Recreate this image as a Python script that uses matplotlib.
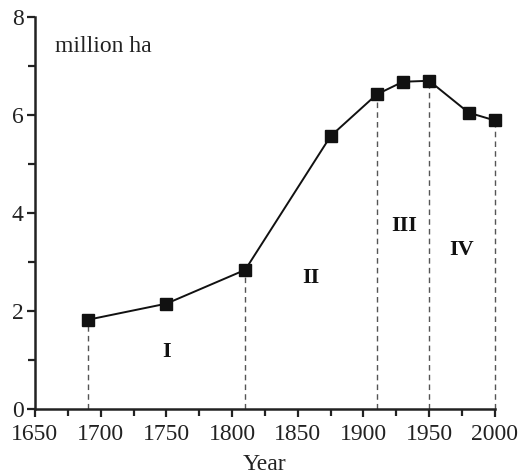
import matplotlib.pyplot as plt
from matplotlib.ticker import MultipleLocator

years = [1690, 1750, 1810, 1875, 1910, 1930, 1950, 1980, 2000]
area = [1.82, 2.15, 2.84, 5.57, 6.42, 6.68, 6.70, 6.05, 5.89]
stage_years = [1690, 1810, 1910, 1950, 2000]
stage_labels = ["I", "II", "III", "IV"]
stage_label_pos = [(1750, 1.16), (1860, 2.67), (1931, 3.73), (1975, 3.24)]

plt.rcParams['font.family'] = ['Liberation Serif', 'DejaVu Serif']

fig = plt.figure(figsize=(5.22, 4.75), dpi=100)
ax = fig.add_axes([0.067, 0.139, 0.881, 0.825])

ax.plot(years, area, color='#111111', lw=1.4, marker='s', ms=8.5,
        mfc='#111111', mec='#111111', zorder=3, clip_on=False)

area_at = dict(zip(years, area))
for yr in stage_years:
    ax.plot([yr, yr], [0, area_at[yr]], ls=(0, (4, 3)), color='#555555',
            lw=1.0, zorder=2, clip_on=False)

for lab, (x, y) in zip(stage_labels, stage_label_pos):
    ax.text(x, y, lab, ha='center', va='center', fontsize=16,
            fontweight='bold', color='#111111')

ax.text(0.043, 0.925, "million ha", transform=ax.transAxes, fontsize=17,
        ha='left', va='center', color='#222222')

ax.set_xlim(1650, 2000)
ax.set_ylim(0, 8)
ax.xaxis.set_major_locator(MultipleLocator(50))
ax.xaxis.set_minor_locator(MultipleLocator(25))
ax.yaxis.set_major_locator(MultipleLocator(2))
ax.yaxis.set_minor_locator(MultipleLocator(1))

for side in ['top', 'right']:
    ax.spines[side].set_visible(False)
for side in ['left', 'bottom']:
    ax.spines[side].set_linewidth(1.8)
    ax.spines[side].set_color('#222222')

ax.tick_params(which='both', direction='out', width=1.6, color='#222222',
               labelsize=17, labelcolor='#222222')
ax.tick_params(which='major', length=6)
ax.tick_params(which='minor', length=5)
ax.tick_params(axis='x', pad=5)
ax.tick_params(axis='y', pad=2)

ax.set_xlabel("Year", fontsize=17, color='#222222', labelpad=6)

fig.savefig("out.png", dpi=100)
